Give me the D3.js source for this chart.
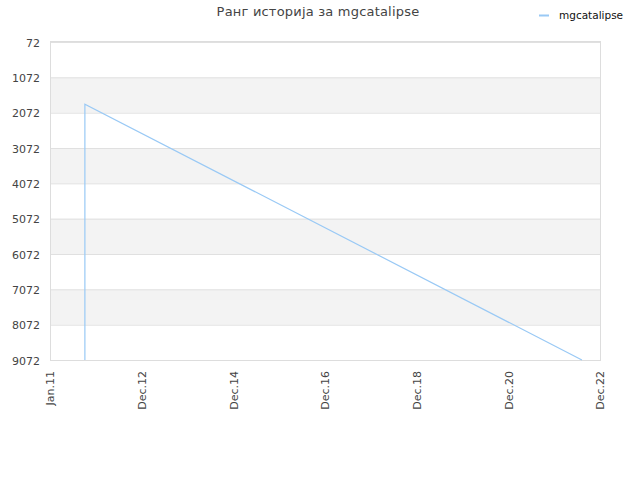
<!DOCTYPE html>
<html><head><meta charset="utf-8">
<script src="https://cdn.jsdelivr.net/npm/d3@7"></script>
<style>body{margin:0;background:#fff;} svg{display:block;font-family:"DejaVu Sans",sans-serif;}</style>
</head><body>
<script>
const title = "Ранг историја за mgcatalipse";
const seriesName = "mgcatalipse";
const dates = ["2011-09-05","2011-09-05","2022-07-10"];
const ranks = [9072, 1830, 9072];
const yTicks = [72,1072,2072,3072,4072,5072,6072,7072,8072,9072];
const xTickDates = ["2010-12-01","2012-12-01","2014-12-01","2016-12-01","2018-12-01","2020-12-01","2022-12-01"];
const xTickLabels = ["Jan.11","Dec.12","Dec.14","Dec.16","Dec.18","Dec.20","Dec.22"];

const W=640,H=480, L=50,R=600,T=42,B=360;
const parse=d3.utcParse("%Y-%m-%d");
const svg=d3.select("body").append("svg").attr("width",W).attr("height",H);
const x=d3.scaleUtc().domain([parse(xTickDates[0]),parse(xTickDates[xTickDates.length-1])]).range([L,R]);
const y=d3.scaleLinear().domain([72,9072]).range([T,B]);

// bands
for(let i=0;i<yTicks.length-1;i++){
  if(i%2===1) svg.append("rect").attr("x",L).attr("y",y(yTicks[i])).attr("width",R-L).attr("height",y(yTicks[i+1])-y(yTicks[i])).attr("fill","#f3f3f3");
}
// grid
svg.append("g").selectAll("line").data(yTicks).join("line")
  .attr("x1",L).attr("x2",R).attr("y1",d=>y(d)+0.5).attr("y2",d=>y(d)+0.5)
  .attr("stroke","#e0e0e0");
// border
svg.append("rect").attr("x",L+0.5).attr("y",T-0.5).attr("width",R-L).attr("height",B-T+1)
  .attr("fill","none").attr("stroke","#dddddd");

// y axis
const ya=svg.append("g").attr("transform",`translate(${L-10},0.5)`)
  .call(d3.axisLeft(y).tickValues(yTicks).tickSize(0).tickPadding(0).tickFormat(d3.format("d")));
ya.select(".domain").remove();
ya.selectAll("text").attr("fill","#444").style("font-size","11px").style("font-family","DejaVu Sans");

// x axis
const xa=svg.append("g").attr("transform",`translate(0,${B})`)
  .call(d3.axisBottom(x).tickValues(xTickDates.map(parse)).tickSize(0).tickFormat((d,i)=>xTickLabels[i]));
xa.select(".domain").remove();
xa.selectAll("text").attr("fill","#444").style("font-size","11px").style("font-family","DejaVu Sans")
  .attr("text-anchor","end").attr("transform","rotate(-90)").attr("x",-11).attr("y",0).attr("dy","0.35em");

// line
const pts=dates.map((d,i)=>({d:parse(d),v:ranks[i]}));
svg.append("path").datum(pts).attr("fill","none").attr("stroke","#99c9f5").attr("stroke-width",1.2)
  .attr("d",d3.line().x(p=>x(p.d)).y(p=>y(p.v)));

// title
svg.append("text").attr("x",318).attr("y",16).attr("text-anchor","middle").attr("fill","#444")
  .style("font-size","13px").style("letter-spacing","0.2px").text(title);
// legend
svg.append("line").attr("x1",539).attr("x2",549).attr("y1",15.5).attr("y2",15.5).attr("stroke","#99c9f5").attr("stroke-width",2);
svg.append("text").attr("x",559).attr("y",19).attr("fill","#111").style("font-size","10.5px").text(seriesName);
</script>
</body></html>
